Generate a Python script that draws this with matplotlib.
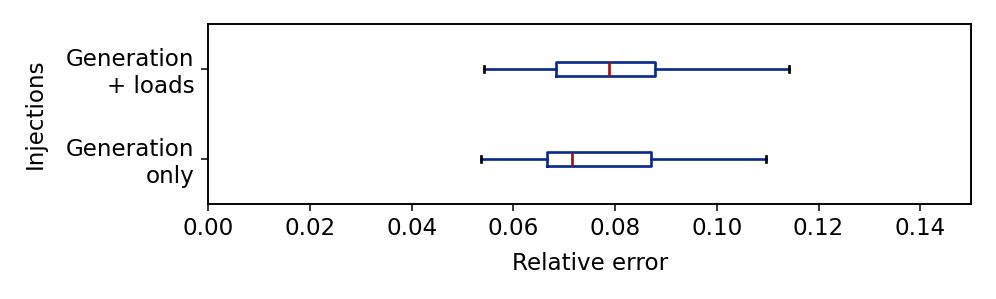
import numpy as np
import matplotlib.pyplot as plt

# box statistics (relative error)
labels = ['Generation\nonly', 'Generation\n+ loads']
whislo = [0.0537, 0.0543]
q1 = [0.0666, 0.0684]
med = [0.0716, 0.0788]
q3 = [0.0871, 0.0879]
whishi = [0.1097, 0.1142]

stats = []
for i in range(len(labels)):
    stats.append(dict(label=labels[i], whislo=whislo[i], q1=q1[i], med=med[i],
                      q3=q3[i], whishi=whishi[i], fliers=[]))

plt.rcParams['font.size'] = 12
plt.rcParams['axes.linewidth'] = 1.0
dpi = 138
fig = plt.figure(figsize=(996 / dpi, 299 / dpi), dpi=dpi)
ax = fig.add_axes([0.209, 0.318, 0.766, 0.602])

blue = '#0a2a8c'
lw = 1.4
ax.bxp(stats, vert=False, widths=0.15,
       boxprops=dict(color=blue, linewidth=lw),
       whiskerprops=dict(color=blue, linewidth=lw),
       capprops=dict(color='black', linewidth=lw),
       medianprops=dict(color='#a01010', linewidth=lw))

ax.set_xlim(0, 0.15)
ax.set_ylim(0.5, 2.5)
ax.set_xlabel('Relative error', labelpad=6)
ax.set_ylabel('Injections', labelpad=10)

plt.savefig('out.png', dpi=dpi)
